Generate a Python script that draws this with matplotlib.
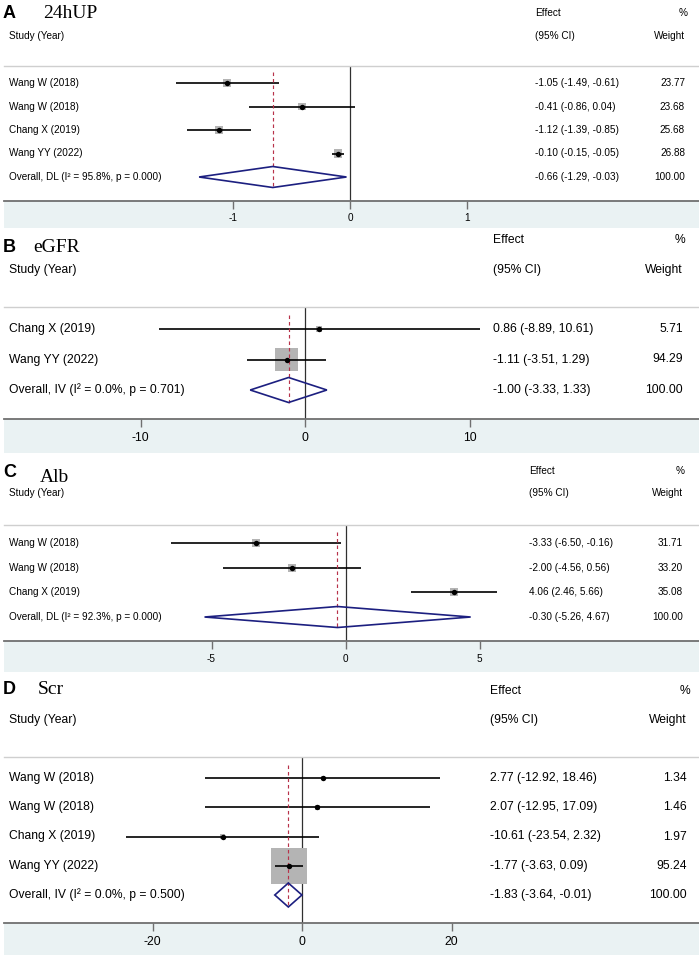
import numpy as np
import matplotlib
matplotlib.use('Agg')
import matplotlib.pyplot as plt
from matplotlib.patches import Polygon, Rectangle
from matplotlib.transforms import blended_transform_factory

plt.rcParams['font.family'] = ['Liberation Sans', 'DejaVu Sans']

# A: 24hUP
a_studies = ['Wang W (2018)', 'Wang W (2018)', 'Chang X (2019)', 'Wang YY (2022)']
a_es = [-1.05, -0.41, -1.12, -0.10]
a_lo = [-1.49, -0.86, -1.39, -0.15]
a_hi = [-0.61, 0.04, -0.85, -0.05]
a_wt = [23.77, 23.68, 25.68, 26.88]
a_overall = [-0.66, -1.29, -0.03]
a_overall_label = 'Overall, DL (I² = 95.8%, p = 0.000)'
a_ticks = [-1, 0, 1]

# B: eGFR
b_studies = ['Chang X (2019)', 'Wang YY (2022)']
b_es = [0.86, -1.11]
b_lo = [-8.89, -3.51]
b_hi = [10.61, 1.29]
b_wt = [5.71, 94.29]
b_overall = [-1.00, -3.33, 1.33]
b_overall_label = 'Overall, IV (I² = 0.0%, p = 0.701)'
b_ticks = [-10, 0, 10]

# C: Alb
c_studies = ['Wang W (2018)', 'Wang W (2018)', 'Chang X (2019)']
c_es = [-3.33, -2.00, 4.06]
c_lo = [-6.50, -4.56, 2.46]
c_hi = [-0.16, 0.56, 5.66]
c_wt = [31.71, 33.20, 35.08]
c_overall = [-0.30, -5.26, 4.67]
c_overall_label = 'Overall, DL (I² = 92.3%, p = 0.000)'
c_ticks = [-5, 0, 5]

# D: Scr
d_studies = ['Wang W (2018)', 'Wang W (2018)', 'Chang X (2019)', 'Wang YY (2022)']
d_es = [2.77, 2.07, -10.61, -1.77]
d_lo = [-12.92, -12.95, -23.54, -3.63]
d_hi = [18.46, 17.09, 2.32, 0.09]
d_wt = [1.34, 1.46, 1.97, 95.24]
d_overall = [-1.83, -3.64, -0.01]
d_overall_label = 'Overall, IV (I² = 0.0%, p = 0.500)'
d_ticks = [-20, 0, 20]

W, H = 699, 957
X0, X1 = 4, 699


def fx(px):
    return px / W


def fy(py):
    return 1 - py / H


fig = plt.figure(figsize=(W / 100, H / 100), dpi=100)


def draw_panel(studies, es, lo, hi, wt, overall, overall_label, ticks, lay):
    fs = lay['fs']
    ax = fig.add_axes([fx(X0), fy(lay['axis_y']), (X1 - X0) / W,
                       (lay['axis_y'] - lay['sep_y']) / H])
    ax.set_xlim((X0 - lay['zero_x']) / lay['ppu'], (X1 - lay['zero_x']) / lay['ppu'])
    ax.set_ylim((lay['axis_y'] - lay['row0']) / lay['drow'],
                (lay['sep_y'] - lay['row0']) / lay['drow'])

    for s in ['left', 'right']:
        ax.spines[s].set_visible(False)
    ax.spines['top'].set_color('#cfcfcf')
    ax.spines['top'].set_linewidth(1.0)
    ax.spines['bottom'].set_color('#707070')
    ax.spines['bottom'].set_linewidth(1.3)
    ax.set_yticks([])
    ax.set_xticks(ticks)
    ax.set_xticklabels([str(t) for t in ticks])
    ax.tick_params(axis='x', length=5.8, width=1.0, color='#707070',
                   labelsize=fs, pad=lay['pad'])

    # band under the axis
    fig.add_artist(Rectangle((fx(X0), fy(lay['band_bot'])), (X1 - X0) / W,
                             (lay['band_bot'] - lay['axis_y']) / H,
                             transform=fig.transFigure, color='#eaf2f3',
                             zorder=-1, lw=0))

    n = len(studies)
    rows = np.arange(n)
    ov, ov_lo, ov_hi = overall
    dh = lay['dh'] / lay['drow']

    ax.axvline(0, color='#303030', lw=0.9, zorder=1)

    sides = [lay['box_k'] * np.sqrt(w) * 0.72 for w in wt]
    ax.scatter(es, rows, marker='s', s=[sd ** 2 for sd in sides],
               color='#b4b4b4', linewidths=0, zorder=2)
    ax.hlines(rows, lo, hi, color='black', lw=1.2, zorder=3)
    ax.plot([ov, ov], [-0.45, n + dh], color='#b8324a', lw=0.85,
            linestyle=(0, (3, 2.5)), zorder=4)
    ax.scatter(es, rows, s=3.9 ** 2, color='black', linewidths=0, zorder=5)
    ax.add_patch(Polygon([(ov_lo, n), (ov, n - dh), (ov_hi, n), (ov, n + dh)],
                         closed=True, fill=False, edgecolor='#1c1f80',
                         lw=1.2, zorder=4))

    tr = blended_transform_factory(fig.transFigure, ax.transData)
    labels = studies + [overall_label]
    all_es = es + [ov]
    all_lo = lo + [ov_lo]
    all_hi = hi + [ov_hi]
    all_wt = wt + [100.0]
    for i in range(n + 1):
        ax.text(fx(9), i, labels[i], transform=tr, fontsize=fs,
                va='center', ha='left')
        ax.text(fx(lay['eff_x']), i,
                f'{all_es[i]:.2f} ({all_lo[i]:.2f}, {all_hi[i]:.2f})',
                transform=tr, fontsize=fs, va='center', ha='left')
        ax.text(fx(lay['wt_x']), i, f'{all_wt[i]:.2f}', transform=tr,
                fontsize=fs, va='center', ha='right')

    # headers
    fig.text(fx(3), fy(lay['letter_y']), lay['letter'], fontsize=13,
             fontweight='bold', va='center', ha='left')
    fig.text(fx(lay['title_x']), fy(lay['title_y']), lay['title'], fontsize=14,
             family='Liberation Serif', va='center', ha='left')
    fig.text(fx(lay['eff_x']), fy(lay['h1_y']), 'Effect', fontsize=fs,
             va='center', ha='left')
    fig.text(fx(lay['pct_x']), fy(lay['h1_y']), '%', fontsize=fs,
             va='center', ha='right')
    fig.text(fx(9), fy(lay['h2_y']), 'Study (Year)', fontsize=fs,
             va='center', ha='left')
    fig.text(fx(lay['eff_x']), fy(lay['h2_y']), '(95% CI)', fontsize=fs,
             va='center', ha='left')
    fig.text(fx(lay['wt_x']), fy(lay['h2_y']), 'Weight', fontsize=fs,
             va='center', ha='right')
    return ax


lay_a = dict(letter='A', title='24hUP', title_x=43, title_y=14, letter_y=13,
             h1_y=13, h2_y=36, sep_y=66, axis_y=201, band_bot=228,
             row0=83, drow=23.5, zero_x=350, ppu=117, eff_x=535, wt_x=685,
             pct_x=688, fs=7.2, box_k=1.6, dh=10.5, pad=2.8)
lay_b = dict(letter='B', title='eGFR', title_x=33, title_y=247, letter_y=247,
             h1_y=240, h2_y=270, sep_y=307, axis_y=419, band_bot=453,
             row0=329, drow=30.5, zero_x=305, ppu=16.45, eff_x=493, wt_x=683,
             pct_x=685, fs=8.7, box_k=2.4, dh=12.5, pad=3.4)
lay_c = dict(letter='C', title='Alb', title_x=40, title_y=478, letter_y=473,
             h1_y=471, h2_y=493, sep_y=525, axis_y=641, band_bot=672,
             row0=543, drow=24.67, zero_x=345.5, ppu=26.8, eff_x=529, wt_x=683,
             pct_x=685, fs=7.2, box_k=1.4, dh=10.5, pad=3.4)
lay_d = dict(letter='D', title='Scr', title_x=38, title_y=690, letter_y=690,
             h1_y=691, h2_y=720, sep_y=757, axis_y=923, band_bot=955,
             row0=778, drow=29.25, zero_x=302, ppu=7.475, eff_x=490, wt_x=687,
             pct_x=690, fs=8.7, box_k=3.74, dh=12, pad=3.4)

draw_panel(a_studies, a_es, a_lo, a_hi, a_wt, a_overall, a_overall_label, a_ticks, lay_a)
draw_panel(b_studies, b_es, b_lo, b_hi, b_wt, b_overall, b_overall_label, b_ticks, lay_b)
draw_panel(c_studies, c_es, c_lo, c_hi, c_wt, c_overall, c_overall_label, c_ticks, lay_c)
draw_panel(d_studies, d_es, d_lo, d_hi, d_wt, d_overall, d_overall_label, d_ticks, lay_d)

fig.savefig('out.png', dpi=100)
